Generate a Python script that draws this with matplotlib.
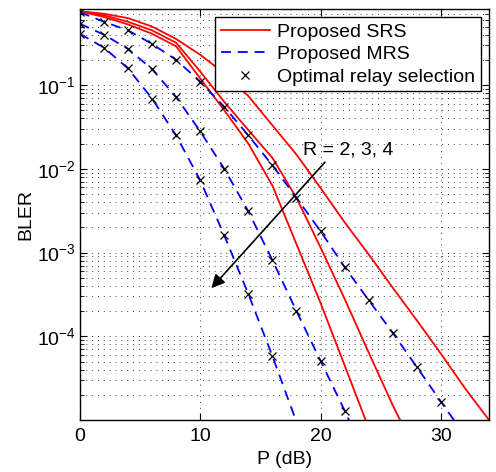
import numpy as np
import matplotlib
matplotlib.use("Agg")
import matplotlib.pyplot as plt
from matplotlib.ticker import LogLocator, LogFormatterMathtext, NullFormatter

plt.rcParams['font.family'] = ['Liberation Sans', 'DejaVu Sans']
plt.rcParams['mathtext.fontset'] = 'custom'
plt.rcParams['mathtext.rm'] = 'Liberation Sans'
plt.rcParams['mathtext.it'] = 'Liberation Sans:italic'
plt.rcParams['mathtext.sf'] = 'Liberation Sans'
plt.rcParams['font.size'] = 14

# Proposed SRS (solid red), R = 2, 3, 4
p_srs_r2 = [0, 2, 4, 6, 8, 10, 12, 14, 16, 18, 20, 22, 24, 26, 28, 30, 32, 34]
srs_r2 = [0.76, 0.71, 0.63, 0.50, 0.355, 0.23, 0.138, 0.074, 0.033, 0.0148,
          0.0059, 0.0023, 9.5e-4, 3.8e-4, 1.55e-4, 6.2e-5, 2.4e-5, 1.0e-5]
p_srs_r3 = [0, 2, 4, 6, 8, 10, 12, 14, 16, 18, 20, 22, 24, 26, 28]
srs_r3 = [0.76, 0.68, 0.57, 0.45, 0.32, 0.145, 0.063, 0.029, 0.0135, 0.0045,
          0.00115, 2.8e-4, 6.4e-5, 1.5e-5, 4e-6]
p_srs_r4 = [0, 2, 4, 6, 8, 10, 12, 14, 16, 18, 20, 22, 24]
srs_r4 = [0.76, 0.65, 0.53, 0.41, 0.29, 0.12, 0.05, 0.02, 0.0063, 0.00126,
          2.5e-4, 4.5e-5, 8e-6]

# Proposed MRS (dashed blue) = optimal relay selection (x markers)
p_mrs_r2 = [0, 2, 4, 6, 8, 10, 12, 14, 16, 18, 20, 22, 24, 26, 28, 30, 32]
mrs_r2 = [0.74, 0.57, 0.45, 0.31, 0.2, 0.11, 0.055, 0.025, 0.011, 0.0045,
          0.0018, 6.7e-4, 2.7e-4, 1.1e-4, 4.3e-5, 1.66e-5, 6.5e-6]
p_mrs_r3 = [0, 2, 4, 6, 8, 10, 12, 14, 16, 18, 20, 22, 24]
mrs_r3 = [0.54, 0.40, 0.27, 0.155, 0.072, 0.028, 0.01, 0.0031, 8.1e-4,
          2.0e-4, 5.1e-5, 1.3e-5, 3e-6]
p_mrs_r4 = [0, 2, 4, 6, 8, 10, 12, 14, 16, 18, 20]
mrs_r4 = [0.41, 0.28, 0.158, 0.069, 0.025, 0.0073, 0.0016, 3.2e-4, 5.8e-5,
          9.5e-6, 1.5e-6]

fig = plt.figure(figsize=(4.96, 4.72), dpi=100)
ax = fig.add_axes([0.161, 0.110, 0.825, 0.870])

lw = 1.3
dash = (0, (5.5, 3.8))
for p, v in [(p_srs_r2, srs_r2), (p_srs_r3, srs_r3), (p_srs_r4, srs_r4)]:
    ax.semilogy(p, v, color='#ff0000', lw=lw)
for p, v in [(p_mrs_r2, mrs_r2), (p_mrs_r3, mrs_r3), (p_mrs_r4, mrs_r4)]:
    ax.semilogy(p, v, color='#0000ff', lw=lw, linestyle=dash)
for p, v in [(p_mrs_r2, mrs_r2), (p_mrs_r3, mrs_r3), (p_mrs_r4, mrs_r4)]:
    p = np.array(p)
    v = np.array(v)
    keep = v > 1.2e-5
    ax.semilogy(p[keep], v[keep], 'x', color='k', ms=6, mew=0.9)

# legend proxies
ax.plot([], [], color='#ff0000', lw=lw, label='Proposed SRS')
ax.plot([], [], color='#0000ff', lw=lw, linestyle=dash, label='Proposed MRS')
ax.plot([], [], 'x', color='k', ms=6, mew=0.9, label='Optimal relay selection')
handles, labels = ax.get_legend_handles_labels()
leg = ax.legend(handles[-3:], labels[-3:], loc='upper right', fancybox=False,
                edgecolor='k', framealpha=1, handlelength=2.5, handletextpad=0.4,
                labelspacing=0.25, borderpad=0.3, borderaxespad=0.4)
leg.get_frame().set_linewidth(1.0)

ax.annotate('', xy=(10.77, 3.55e-4), xytext=(20.52, 0.0127),
            arrowprops=dict(arrowstyle='-|>', color='k', lw=1.2, mutation_scale=20))
ax.text(18.5, 0.0167, 'R = 2, 3, 4', va='center', ha='left')

ax.set_xlim(0, 34)
ax.set_ylim(1e-5, 0.8)
ax.set_xticks([0, 10, 20, 30])
ax.set_yticks([1e-4, 1e-3, 1e-2, 1e-1])
ax.yaxis.set_major_formatter(LogFormatterMathtext())
ax.yaxis.set_minor_locator(LogLocator(base=10, subs=np.arange(2, 10)))
ax.yaxis.set_minor_formatter(NullFormatter())
ax.tick_params(which='both', direction='in', top=True, right=True)
ax.tick_params(which='major', length=5, width=0.8, pad=6)
ax.tick_params(which='minor', length=3, width=0.6)
ax.tick_params(axis='y', which='major', pad=3)
grid_style = dict(linestyle=(0, (1, 5)), color='0.25', lw=0.7)
ax.grid(True, which='major', **grid_style)
ax.grid(True, which='minor', axis='y', **grid_style)
for s in ax.spines.values():
    s.set_linewidth(1.0)

ax.set_xlabel('P (dB)', labelpad=4)
ax.set_ylabel('BLER', labelpad=2)

fig.savefig('out.png', dpi=100)
